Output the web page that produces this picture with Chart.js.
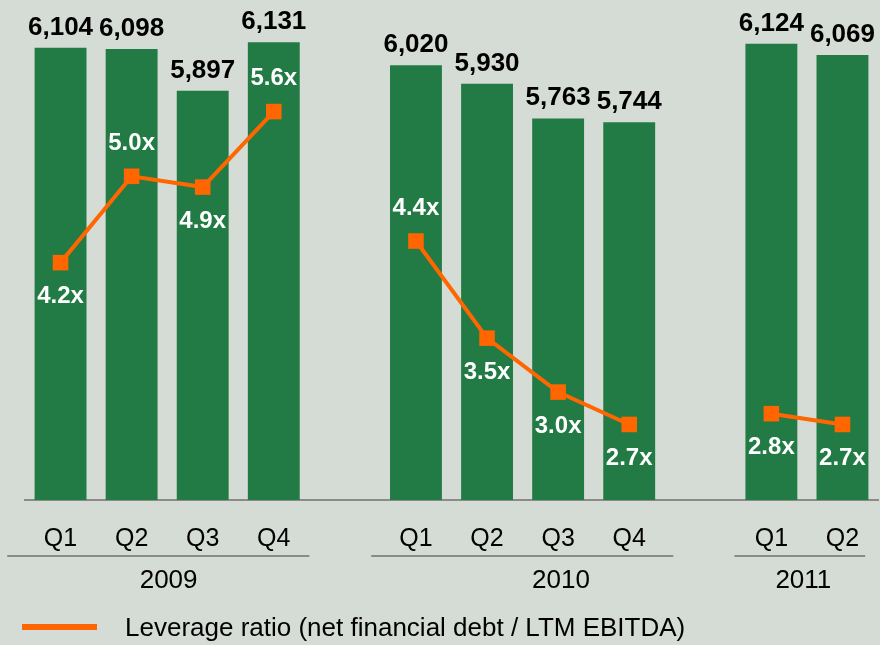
<!DOCTYPE html>
<html>
<head>
<meta charset="utf-8">
<title>Net financial debt and leverage</title>
<script src="https://cdn.jsdelivr.net/npm/chart.js@4/dist/chart.umd.min.js"></script>
<style>
    html, body { margin: 0; padding: 0; background: #d5dbd5; }
    #wrap { width: 880px; height: 645px; position: relative; }
</style>
</head>
<body>
<div id="wrap"><canvas id="debtChart"></canvas></div>
<script>
// Data (empty slots separate the years)
const quarters = ['Q1', 'Q2', 'Q3', 'Q4', '', 'Q1', 'Q2', 'Q3', 'Q4', '', 'Q1', 'Q2'];
const netDebt = [6104, 6098, 5897, 6131, null, 6020, 5930, 5763, 5744, null, 6124, 6069];
const leverage = [4.2, 5.0, 4.9, 5.6, null, 4.4, 3.5, 3.0, 2.7, null, 2.8, 2.7];
const years = ['2009', '2010', '2011'];
const legendText = 'Leverage ratio (net financial debt / LTM EBITDA)';

// Layout helpers (category index units / placement), not data
const leverageLabelSide = ['below', 'above', 'below', 'above', null, 'above', 'below', 'below', 'below', null, 'below', 'below'];
const yearSpans = [
    { from: -0.75, to: 3.5, label: 1.52 },
    { from: 4.37, to: 8.62, label: 7.04 },
    { from: 9.48, to: 11.32, label: 10.45 }
];

const GREEN = '#227b44';
const ORANGE = '#ff6600';
const GREY = '#8a8a8a';
const FONT = "'Liberation Sans', Arial, sans-serif";

const annotations = {
    id: 'annotations',
    afterDatasetsDraw(chart) {
        const ctx = chart.ctx;
        const x = chart.scales.x;

        ctx.save();
        // Bar values
        const barMeta = chart.getDatasetMeta(1);
        ctx.font = 'bold 26px ' + FONT;
        ctx.fillStyle = '#000';
        ctx.textAlign = 'center';
        ctx.textBaseline = 'alphabetic';
        barMeta.data.forEach((bar, i) => {
            if (netDebt[i] == null) return;
            ctx.fillText(netDebt[i].toLocaleString('en-US'), bar.x, bar.y - 13);
        });

        // Leverage labels
        const lineMeta = chart.getDatasetMeta(0);
        ctx.font = 'bold 24px ' + FONT;
        ctx.fillStyle = '#fff';
        ctx.textBaseline = 'middle';
        lineMeta.data.forEach((pt, i) => {
            if (leverage[i] == null) return;
            const dy = leverageLabelSide[i] === 'above' ? -33 : 34;
            ctx.fillText(leverage[i].toFixed(1) + 'x', pt.x, pt.y + dy);
        });

        // Year groups
        ctx.strokeStyle = GREY;
        ctx.lineWidth = 2;
        ctx.fillStyle = '#000';
        ctx.font = '26px ' + FONT;
        years.forEach((year, i) => {
            const span = yearSpans[i];
            ctx.beginPath();
            ctx.moveTo(x.getPixelForValue(span.from), 556);
            ctx.lineTo(x.getPixelForValue(span.to), 556);
            ctx.stroke();
            ctx.fillText(year, x.getPixelForValue(span.label), 581);
        });

        // Legend
        ctx.strokeStyle = ORANGE;
        ctx.lineWidth = 6;
        ctx.beginPath();
        ctx.moveTo(22, 627);
        ctx.lineTo(97, 627);
        ctx.stroke();
        ctx.textAlign = 'left';
        ctx.fillText(legendText, 125, 629);
        ctx.restore();
    }
};

new Chart(document.getElementById('debtChart'), {
    data: {
        labels: quarters,
        datasets: [{
            type: 'line',
            label: legendText,
            data: leverage,
            yAxisID: 'y2',
            order: 0,
            borderColor: ORANGE,
            borderWidth: 4,
            pointStyle: 'rect',
            pointRadius: 11,
            pointBorderWidth: 0,
            pointBackgroundColor: ORANGE
        }, {
            type: 'bar',
            label: 'Net financial debt',
            data: netDebt,
            yAxisID: 'y',
            order: 1,
            backgroundColor: GREEN,
            barPercentage: 0.73,
            categoryPercentage: 1
        }]
    },
    options: {
        responsive: true,
        maintainAspectRatio: false,
        animation: false,
        events: [],
        layout: { autoPadding: false, padding: { left: 25, right: 2, top: 0, bottom: 0 } },
        plugins: {
            legend: { display: false },
            tooltip: { enabled: false }
        },
        scales: {
            x: {
                grid: { display: false },
                border: { display: true, color: GREY, width: 2 },
                ticks: { color: '#000', font: { family: FONT, size: 25 }, padding: 16, maxRotation: 0, autoSkip: false },
                afterFit(scale) { scale.height = 145; }
            },
            y: { display: false, min: 3920, max: 6335 },
            y2: { display: false, min: 2.0, max: 6.634 }
        }
    },
    plugins: [annotations]
});
</script>
</body>
</html>
